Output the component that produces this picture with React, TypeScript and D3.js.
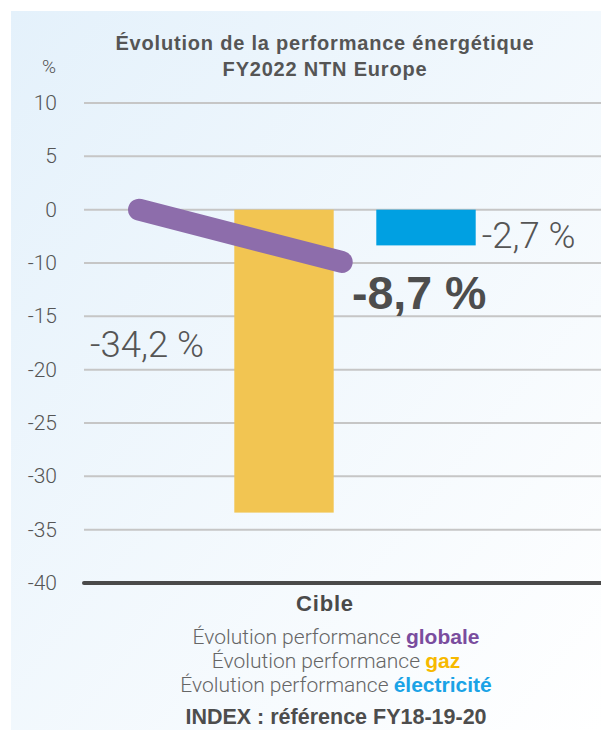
import React, { useRef, useEffect } from 'react';
import * as d3 from 'd3';

// Categories and values
const series = ['globale', 'gaz', 'électricité'];
const barValues = [null, -33.4, -6.7]; // globale drawn as a line
const lineValues = [0, -9.8];
const valueLabels = ['-34,2 %', '-8,7 %', '-2,7 %'];
// the source axis skips -5: ticks are evenly spaced on screen
const yTicks = [10, 5, 0, -10, -15, -20, -25, -30, -35, -40];
const titleLines = ['Évolution de la performance énergétique', 'FY2022 NTN Europe'];
const legendWords = ['globale', 'gaz', 'électricité'];
const colors = ['#8d6dab', '#f2c552', '#00a0e2'];
const legendColors = ['#7a4d9e', '#f7b900', '#1aa3e6'];

const W = 601;
const H = 730;

const App = () => {
  const svgRef = useRef<SVGSVGElement>(null);

  useEffect(() => {
    const svg = d3.select(svgRef.current);
    svg.selectAll('*').remove();

    const font = '"Liberation Sans", Arial, sans-serif';
    const light = 'Roboto, "Liberation Sans", sans-serif';

    // background gradient
    const defs = svg.append('defs');
    const grad = defs
      .append('linearGradient')
      .attr('id', 'bg')
      .attr('x1', '0%')
      .attr('y1', '0%')
      .attr('x2', '100%')
      .attr('y2', '100%');
    grad.append('stop').attr('offset', '0%').attr('stop-color', '#e4f1fb');
    grad.append('stop').attr('offset', '100%').attr('stop-color', '#ffffff');
    svg.append('rect').attr('x', 11).attr('y', 11).attr('width', W - 11).attr('height', H - 11).attr('fill', 'url(#bg)');

    // piecewise scale: equal spacing per tick, -5 missing
    const top = 103;
    const bottom = 583;
    const step = (bottom - top) / (yTicks.length - 1);
    const y = d3
      .scaleLinear()
      .domain(yTicks)
      .range(yTicks.map((_, i) => top + i * step));
    const x = d3
      .scaleBand()
      .domain(series)
      .range([71, 497])
      .paddingInner(0.3)
      .paddingOuter(0.15);

    // grid
    svg
      .append('g')
      .selectAll('line')
      .data(yTicks.filter((t) => t !== -40))
      .enter()
      .append('line')
      .attr('x1', 84)
      .attr('x2', W)
      .attr('y1', (d) => y(d))
      .attr('y2', (d) => y(d))
      .attr('stroke', '#c6c6c6')
      .attr('stroke-width', 2);

    // y tick labels
    svg
      .append('g')
      .selectAll('text')
      .data(yTicks)
      .enter()
      .append('text')
      .attr('x', 57)
      .attr('y', (d) => y(d) + 7)
      .attr('text-anchor', 'end')
      .attr('font-family', light)
      .attr('font-weight', 300)
      .attr('font-size', 21)
      .attr('fill', '#555')
      .text((d) => d);

    svg
      .append('text')
      .attr('x', 49)
      .attr('y', 73)
      .attr('text-anchor', 'middle')
      .attr('font-family', light)
      .attr('font-weight', 300)
      .attr('font-size', 19)
      .attr('fill', '#555')
      .text('%');

    // bars
    svg
      .append('g')
      .selectAll('rect')
      .data(series.map((s, i) => ({ s, v: barValues[i], c: colors[i] })).filter((d) => d.v !== null))
      .enter()
      .append('rect')
      .attr('x', (d) => x(d.s)!)
      .attr('width', x.bandwidth())
      .attr('y', y(0))
      .attr('height', (d) => y(d.v as number) - y(0))
      .attr('fill', (d) => d.c);

    // globale line
    const lx = [x('globale')! + x.bandwidth() / 2 - 3, x('gaz')! + x.bandwidth() + 8];
    const line = d3
      .line<number>()
      .x((_, i) => lx[i])
      .y((d) => y(d));
    svg
      .append('path')
      .attr('d', line(lineValues))
      .attr('fill', 'none')
      .attr('stroke', colors[0])
      .attr('stroke-width', 22)
      .attr('stroke-linecap', 'round');

    // value labels
    svg
      .append('text')
      .attr('x', 90)
      .attr('y', 357)
      .attr('font-family', light)
      .attr('font-weight', 300)
      .attr('font-size', 36.5)
      .attr('fill', '#555')
      .text(valueLabels[0]);
    svg
      .append('text')
      .attr('x', 352)
      .attr('y', 309)
      .attr('font-family', font)
      .attr('font-weight', 700)
      .attr('font-size', 46.5)
      .attr('fill', '#4d4d4d')
      .text(valueLabels[1]);
    svg
      .append('text')
      .attr('x', x('électricité')! + x.bandwidth() + 6)
      .attr('y', 248)
      .attr('font-family', light)
      .attr('font-weight', 300)
      .attr('font-size', 36.5)
      .attr('fill', '#555')
      .text(valueLabels[2]);

    // baseline axis
    svg
      .append('line')
      .attr('x1', 84)
      .attr('x2', W)
      .attr('y1', y(-40))
      .attr('y2', y(-40))
      .attr('stroke', '#4a4a4a')
      .attr('stroke-width', 4)
      .attr('stroke-linecap', 'round');

    // title
    svg
      .append('g')
      .selectAll('text')
      .data(titleLines)
      .enter()
      .append('text')
      .attr('x', 325)
      .attr('y', (_, i) => 50 + i * 26)
      .attr('text-anchor', 'middle')
      .attr('font-family', font)
      .attr('font-weight', 700)
      .attr('font-size', 20)
      .attr('letter-spacing', 0.8)
      .attr('fill', '#555')
      .text((d) => d);

    svg
      .append('text')
      .attr('x', 325)
      .attr('y', 611)
      .attr('text-anchor', 'middle')
      .attr('font-family', font)
      .attr('font-weight', 700)
      .attr('font-size', 22)
      .attr('letter-spacing', 0.8)
      .attr('fill', '#4a4a4a')
      .text('Cible');

    // legend
    legendWords.forEach((w, i) => {
      const t = svg
        .append('text')
        .attr('x', 336)
        .attr('y', 644 + i * 24)
        .attr('text-anchor', 'middle')
        .attr('font-family', light)
        .attr('font-size', 21)
        .attr('fill', '#666');
      t.append('tspan').attr('font-weight', 300).text('Évolution performance ');
      t.append('tspan')
        .attr('font-family', font)
        .attr('font-weight', 700)
        .attr('fill', legendColors[i])
        .text(w);
    });

    svg
      .append('text')
      .attr('x', 336)
      .attr('y', 724)
      .attr('text-anchor', 'middle')
      .attr('font-family', font)
      .attr('font-weight', 700)
      .attr('font-size', 21.5)
      .attr('fill', '#4d4d4d')
      .text('INDEX : référence FY18-19-20');
  }, []);

  return (
    <svg
      ref={svgRef}
      width={W}
      height={H}
      style={{ position: 'absolute', left: 0, top: 0, background: '#fff' }}
    />
  );
};

export default App;
